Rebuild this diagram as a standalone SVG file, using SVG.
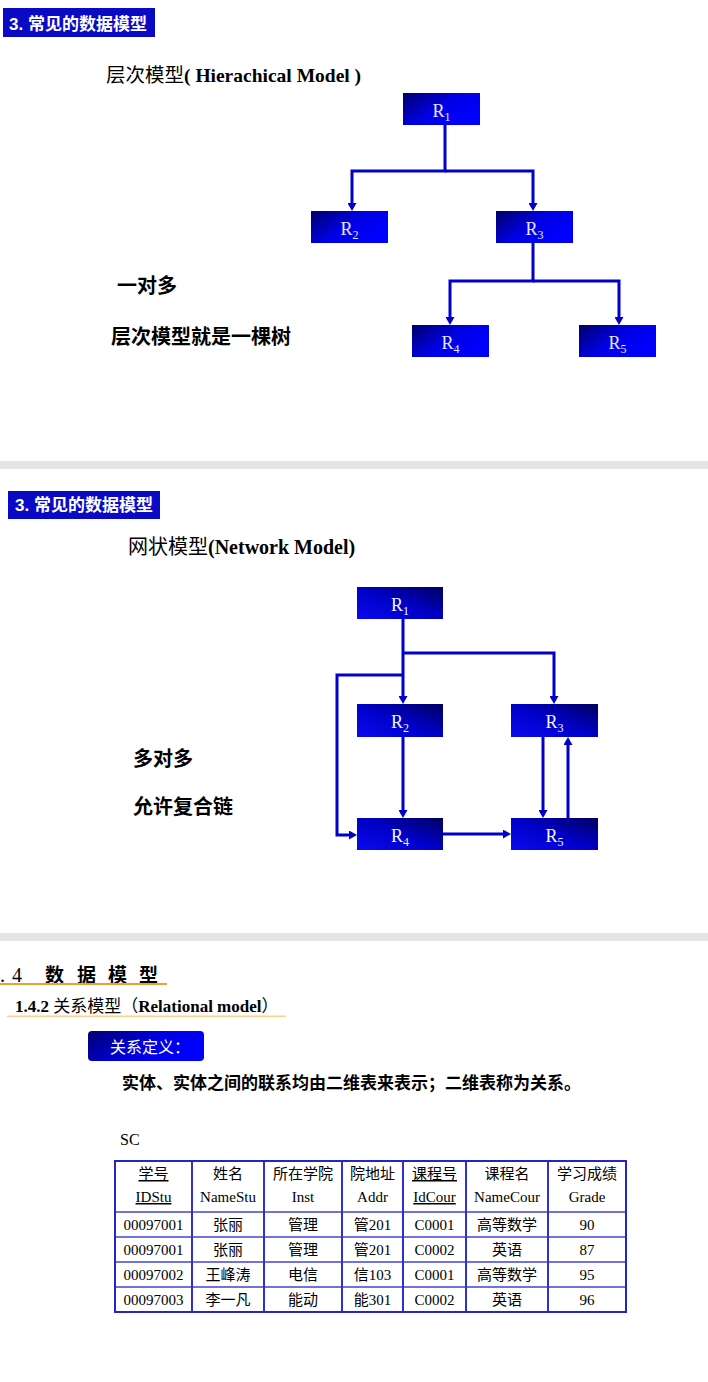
<svg xmlns="http://www.w3.org/2000/svg" width="708" height="1382" viewBox="0 0 708 1382">
<defs>
<linearGradient id="gTree" x1="0" y1="0" x2="1" y2="0.6">
<stop offset="0" stop-color="#00006a"/><stop offset="0.55" stop-color="#0000e6"/><stop offset="1" stop-color="#0000ff"/>
</linearGradient>
<linearGradient id="gNet" x1="0" y1="1" x2="1" y2="0">
<stop offset="0" stop-color="#0a0af0"/><stop offset="0.5" stop-color="#0000c8"/><stop offset="1" stop-color="#000060"/>
</linearGradient>
<linearGradient id="gBtn" x1="0" y1="0" x2="1" y2="0.4">
<stop offset="0" stop-color="#000070"/><stop offset="0.6" stop-color="#0000e0"/><stop offset="1" stop-color="#0000ff"/>
</linearGradient>
<marker id="ah" markerUnits="userSpaceOnUse" markerWidth="9" markerHeight="9" refX="1" refY="4.5" orient="auto">
<path d="M0,0 L8,4.5 L0,9 z" fill="#0000c8"/>
</marker>
<style>
.sep{fill:#e5e5e5}
.hdr{fill:#0a0ac4}
.hdrt{font-family:"Liberation Sans","Noto Sans CJK SC",sans-serif;font-weight:bold;font-size:17px;fill:#ffffff}
.cjk{font-family:"Noto Sans CJK SC",sans-serif}
.tms{font-family:"Liberation Serif","Noto Sans CJK SC",serif}
.lbl{font-family:"Noto Sans CJK SC",sans-serif;font-weight:bold;font-size:20px;fill:#000}
.bt{fill:url(#gTree)}
.bn{fill:url(#gNet)}
.rt{font-family:"Liberation Serif",serif;font-size:18px;fill:#e6e6f8;text-anchor:middle}
.rn{font-family:"Liberation Serif",serif;font-size:18px;fill:#f4f4ff;text-anchor:middle}
.sub{font-size:12px}
.edge{fill:none;stroke:#0000c8;stroke-width:3}
.td{font-family:"Liberation Serif","Noto Sans CJK SC",serif;font-size:15px;fill:#000;text-anchor:middle}
.u{text-decoration:underline}
.tin{stroke:#7272dc;stroke-width:2}
.tv{stroke:#3030cc;stroke-width:2}
</style>
</defs>
<rect width="708" height="1382" fill="#ffffff"/>

<!-- Section 1 -->
<g id="header1">
<rect class="hdr" x="3" y="8" width="152" height="29"/>
<text class="hdrt" x="9" y="30">3. 常见的数据模型</text>
</g>
<g id="title1">
<text x="106" y="82" font-size="19.5"><tspan class="cjk">层次模型</tspan><tspan class="tms" font-weight="bold">( Hierachical Model )</tspan></text>
</g>
<g id="label-one-many"><text class="lbl" x="117" y="293">一对多</text></g>
<g id="label-tree"><text class="lbl" x="111" y="344">层次模型就是一棵树</text></g>

<g id="tree-connectors">
<path class="edge" d="M445,125 V171 H352 V204" marker-end="url(#ah)"/>
<path class="edge" d="M445,171 H533 V204" marker-end="url(#ah)"/>
<path class="edge" d="M533,243 V281 H450 V318" marker-end="url(#ah)"/>
<path class="edge" d="M533,281 H619 V318" marker-end="url(#ah)"/>
</g>
<g id="tree-R1"><rect class="bt" x="403" y="93" width="77" height="32"/><text class="rt" x="441.5" y="117">R<tspan class="sub" dy="4">1</tspan></text></g>
<g id="tree-R2"><rect class="bt" x="311" y="211" width="77" height="32"/><text class="rt" x="349.5" y="235">R<tspan class="sub" dy="4">2</tspan></text></g>
<g id="tree-R3"><rect class="bt" x="496" y="211" width="77" height="32"/><text class="rt" x="534.5" y="235">R<tspan class="sub" dy="4">3</tspan></text></g>
<g id="tree-R4"><rect class="bt" x="412" y="325" width="77" height="32"/><text class="rt" x="450.5" y="349">R<tspan class="sub" dy="4">4</tspan></text></g>
<g id="tree-R5"><rect class="bt" x="579" y="325" width="77" height="32"/><text class="rt" x="617.5" y="349">R<tspan class="sub" dy="4">5</tspan></text></g>

<rect class="sep" x="0" y="461" width="708" height="8"/>

<!-- Section 2 -->
<g id="header2">
<rect class="hdr" x="8" y="491" width="152" height="28"/>
<text class="hdrt" x="15" y="511">3. 常见的数据模型</text>
</g>
<g id="title2">
<text x="128" y="554" font-size="20"><tspan class="cjk">网状模型</tspan><tspan class="tms" font-weight="bold">(Network Model)</tspan></text>
</g>
<g id="label-many-many"><text class="lbl" x="133" y="766">多对多</text></g>
<g id="label-compound"><text class="lbl" x="133" y="814">允许复合链</text></g>

<g id="net-connectors">
<path class="edge" d="M403,619 V697" marker-end="url(#ah)"/>
<path class="edge" d="M403,653 H554 V697" marker-end="url(#ah)"/>
<path class="edge" d="M403,675 H337 V835 H350" marker-end="url(#ah)"/>
<path class="edge" d="M403,737 V811" marker-end="url(#ah)"/>
<path class="edge" d="M443,834 H504" marker-end="url(#ah)"/>
<path class="edge" d="M543,737 V811" marker-end="url(#ah)"/>
<path class="edge" d="M568,818 V744" marker-end="url(#ah)"/>
</g>
<g id="net-R1"><rect class="bn" x="357" y="587" width="86" height="32"/><text class="rn" x="400" y="611">R<tspan class="sub" dy="4">1</tspan></text></g>
<g id="net-R2"><rect class="bn" x="357" y="704" width="86" height="33"/><text class="rn" x="400" y="728">R<tspan class="sub" dy="4">2</tspan></text></g>
<g id="net-R3"><rect class="bn" x="511" y="704" width="87" height="33"/><text class="rn" x="554.5" y="728">R<tspan class="sub" dy="4">3</tspan></text></g>
<g id="net-R4"><rect class="bn" x="357" y="818" width="86" height="32"/><text class="rn" x="400" y="842">R<tspan class="sub" dy="4">4</tspan></text></g>
<g id="net-R5"><rect class="bn" x="511" y="818" width="87" height="32"/><text class="rn" x="554.5" y="842">R<tspan class="sub" dy="4">5</tspan></text></g>

<rect class="sep" x="0" y="933" width="708" height="8"/>

<!-- Section 3 -->
<g id="heading3">
<text class="tms" font-size="20" x="0 12" y="982">.4</text>
<text class="cjk" font-size="19" font-weight="bold" x="45 77 108 139" y="982">数据模型</text>
<rect x="0" y="983" width="167" height="2" fill="#f0a030"/>
</g>
<g id="heading342">
<text x="15" y="1012" font-size="17"><tspan class="tms" font-weight="bold">1.4.2 </tspan><tspan class="cjk">关系模型（</tspan><tspan class="tms" font-weight="bold">Relational model</tspan><tspan class="cjk">）</tspan></text>
<rect x="7" y="1015.5" width="279" height="1.5" fill="#ffcf8a"/>
</g>
<g id="btn-def">
<rect x="88" y="1031" width="116" height="30" rx="4" fill="url(#gBtn)"/>
<text class="cjk" x="110" y="1053" font-size="16" fill="#ffffff">关系定义：</text>
</g>
<g id="def-text">
<text class="cjk" x="122" y="1089" font-size="17" font-weight="bold">实体、实体之间的联系均由二维表来表示；二维表称为关系。</text>
</g>
<g id="sc-label"><text class="tms" x="120" y="1145" font-size="16">SC</text></g>

<g id="table">
<line class="tin" x1="115" y1="1212" x2="626" y2="1212" stroke-width="2.5"/>
<line class="tin" x1="115" y1="1237" x2="626" y2="1237"/>
<line class="tin" x1="115" y1="1262" x2="626" y2="1262"/>
<line class="tin" x1="115" y1="1287" x2="626" y2="1287"/>
<line class="tv" x1="192" y1="1161" x2="192" y2="1312"/>
<line class="tv" x1="264" y1="1161" x2="264" y2="1312"/>
<line class="tv" x1="342" y1="1161" x2="342" y2="1312"/>
<line class="tv" x1="403" y1="1161" x2="403" y2="1312"/>
<line class="tv" x1="466" y1="1161" x2="466" y2="1312"/>
<line class="tv" x1="548" y1="1161" x2="548" y2="1312"/>
<rect x="115" y="1161" width="511" height="151" fill="none" stroke="#2424c8" stroke-width="2"/>

<text class="td u" x="153.5" y="1179">学号</text>
<text class="td" x="228" y="1179">姓名</text>
<text class="td" x="303" y="1179">所在学院</text>
<text class="td" x="372.5" y="1179">院地址</text>
<text class="td u" x="434.5" y="1179">课程号</text>
<text class="td" x="507" y="1179">课程名</text>
<text class="td" x="587" y="1179">学习成绩</text>

<text class="td u" x="153.5" y="1202">IDStu</text>
<text class="td" x="228" y="1202">NameStu</text>
<text class="td" x="303" y="1202">Inst</text>
<text class="td" x="372.5" y="1202">Addr</text>
<text class="td u" x="434.5" y="1202">IdCour</text>
<text class="td" x="507" y="1202">NameCour</text>
<text class="td" x="587" y="1202">Grade</text>

<text class="td" x="153.5" y="1230">00097001</text>
<text class="td" x="228" y="1230">张丽</text>
<text class="td" x="303" y="1230">管理</text>
<text class="td" x="372.5" y="1230">管201</text>
<text class="td" x="434.5" y="1230">C0001</text>
<text class="td" x="507" y="1230">高等数学</text>
<text class="td" x="587" y="1230">90</text>

<text class="td" x="153.5" y="1255">00097001</text>
<text class="td" x="228" y="1255">张丽</text>
<text class="td" x="303" y="1255">管理</text>
<text class="td" x="372.5" y="1255">管201</text>
<text class="td" x="434.5" y="1255">C0002</text>
<text class="td" x="507" y="1255">英语</text>
<text class="td" x="587" y="1255">87</text>

<text class="td" x="153.5" y="1280">00097002</text>
<text class="td" x="228" y="1280">王峰涛</text>
<text class="td" x="303" y="1280">电信</text>
<text class="td" x="372.5" y="1280">信103</text>
<text class="td" x="434.5" y="1280">C0001</text>
<text class="td" x="507" y="1280">高等数学</text>
<text class="td" x="587" y="1280">95</text>

<text class="td" x="153.5" y="1305">00097003</text>
<text class="td" x="228" y="1305">李一凡</text>
<text class="td" x="303" y="1305">能动</text>
<text class="td" x="372.5" y="1305">能301</text>
<text class="td" x="434.5" y="1305">C0002</text>
<text class="td" x="507" y="1305">英语</text>
<text class="td" x="587" y="1305">96</text>
</g>
</svg>
